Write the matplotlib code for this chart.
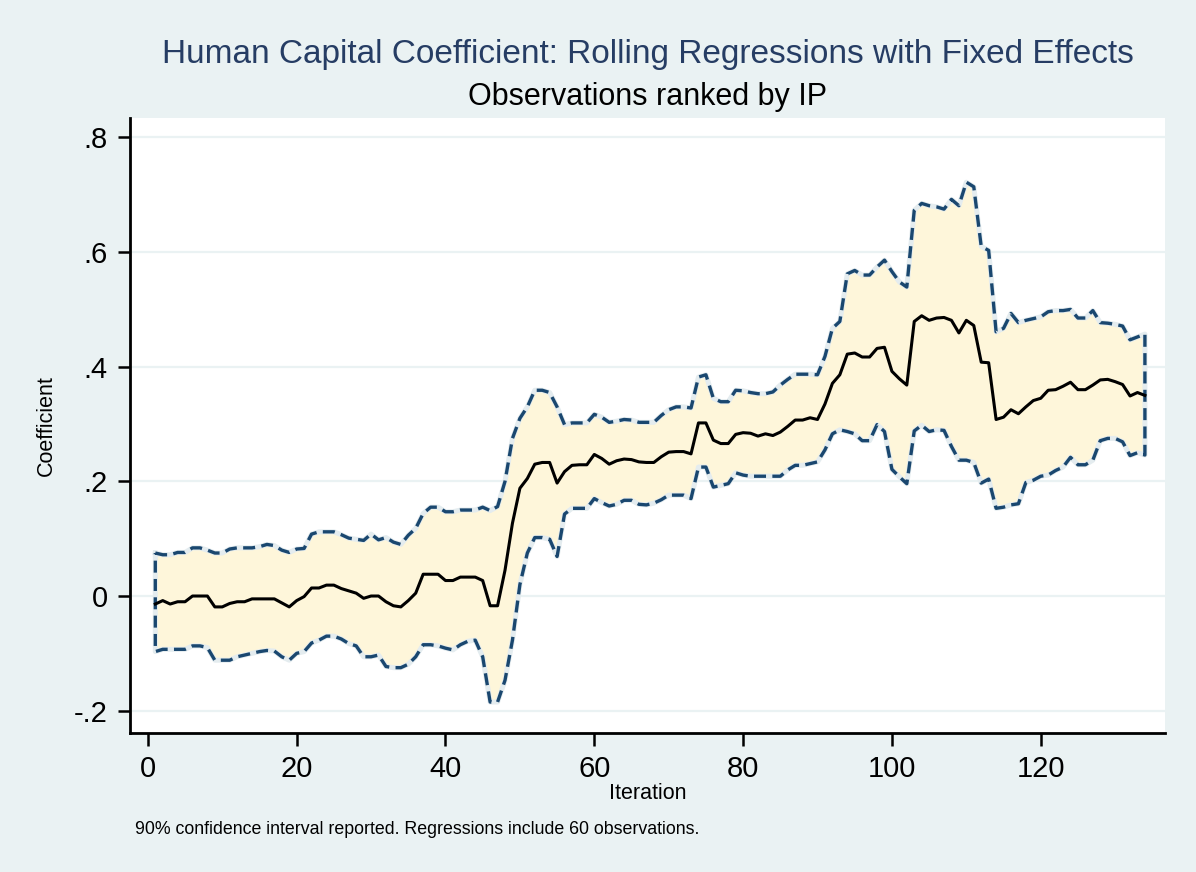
import numpy as np
import matplotlib
matplotlib.use("Agg")
import matplotlib.pyplot as plt

BG = "#EAF2F3"
NAVY = "#1A476F"
TITLE = "#263D64"
FILL = "#FEF6DA"

iteration = list(range(1, 135))

coef = [
    -0.014, -0.008, -0.014, -0.010, -0.010, 0.000, 0.000, 0.000, -0.019, -0.019,
    -0.013, -0.010, -0.010, -0.005, -0.005, -0.005, -0.005, -0.012, -0.019, -0.008,
    -0.001, 0.014, 0.014, 0.019, 0.019, 0.013, 0.009, 0.005, -0.004, 0.000,
    0.000, -0.010, -0.017, -0.019, -0.008, 0.005, 0.038, 0.038, 0.038, 0.027,
    0.027, 0.033, 0.033, 0.033, 0.027, -0.017, -0.017, 0.045, 0.127, 0.188,
    0.205, 0.230, 0.233, 0.233, 0.197, 0.217, 0.228, 0.229, 0.229, 0.247,
    0.240, 0.230, 0.236, 0.239, 0.238, 0.234, 0.233, 0.233, 0.243, 0.251,
    0.252, 0.252, 0.248, 0.302, 0.302, 0.272, 0.266, 0.266, 0.282, 0.285,
    0.284, 0.279, 0.283, 0.280, 0.286, 0.296, 0.307, 0.307, 0.311, 0.308,
    0.335, 0.371, 0.386, 0.422, 0.424, 0.417, 0.417, 0.432, 0.434, 0.392,
    0.379, 0.368, 0.479, 0.489, 0.481, 0.485, 0.486, 0.481, 0.459, 0.481,
    0.472, 0.408, 0.407, 0.308, 0.312, 0.325, 0.318, 0.330, 0.341, 0.345,
    0.359, 0.360, 0.366, 0.373, 0.360, 0.360, 0.368, 0.377, 0.378, 0.374,
    0.369, 0.349, 0.355, 0.350,
]

upper = [
    0.075, 0.072, 0.072, 0.076, 0.076, 0.084, 0.084, 0.080, 0.075, 0.075,
    0.082, 0.084, 0.084, 0.084, 0.086, 0.090, 0.088, 0.080, 0.076, 0.082,
    0.083, 0.108, 0.112, 0.112, 0.112, 0.107, 0.101, 0.099, 0.097, 0.108,
    0.098, 0.102, 0.094, 0.090, 0.106, 0.118, 0.144, 0.155, 0.155, 0.147,
    0.147, 0.150, 0.150, 0.150, 0.155, 0.149, 0.156, 0.200, 0.275, 0.310,
    0.330, 0.359, 0.359, 0.355, 0.330, 0.299, 0.302, 0.302, 0.302, 0.317,
    0.312, 0.303, 0.305, 0.308, 0.307, 0.303, 0.303, 0.303, 0.315, 0.325,
    0.330, 0.330, 0.328, 0.382, 0.386, 0.345, 0.339, 0.339, 0.359, 0.358,
    0.355, 0.353, 0.353, 0.356, 0.368, 0.378, 0.387, 0.387, 0.387, 0.386,
    0.418, 0.467, 0.479, 0.562, 0.568, 0.560, 0.560, 0.574, 0.586, 0.566,
    0.548, 0.539, 0.673, 0.685, 0.681, 0.679, 0.675, 0.692, 0.681, 0.722,
    0.714, 0.610, 0.603, 0.461, 0.467, 0.493, 0.477, 0.481, 0.484, 0.487,
    0.496, 0.498, 0.498, 0.500, 0.485, 0.485, 0.498, 0.477, 0.476, 0.474,
    0.471, 0.447, 0.452, 0.457,
]

lower = [
    -0.097, -0.093, -0.093, -0.093, -0.093, -0.087, -0.087, -0.090, -0.112, -0.112,
    -0.112, -0.106, -0.103, -0.100, -0.097, -0.095, -0.096, -0.106, -0.112, -0.100,
    -0.097, -0.082, -0.077, -0.070, -0.070, -0.075, -0.083, -0.087, -0.106, -0.106,
    -0.103, -0.123, -0.125, -0.125, -0.119, -0.106, -0.085, -0.085, -0.087, -0.091,
    -0.094, -0.085, -0.079, -0.077, -0.106, -0.185, -0.185, -0.147, -0.077, 0.020,
    0.075, 0.102, 0.102, 0.099, 0.069, 0.143, 0.153, 0.153, 0.153, 0.170,
    0.163, 0.157, 0.160, 0.167, 0.167, 0.160, 0.159, 0.162, 0.168, 0.176,
    0.176, 0.176, 0.170, 0.225, 0.225, 0.190, 0.193, 0.196, 0.215, 0.211,
    0.209, 0.209, 0.209, 0.209, 0.209, 0.220, 0.228, 0.228, 0.231, 0.234,
    0.255, 0.283, 0.290, 0.287, 0.283, 0.271, 0.271, 0.299, 0.287, 0.221,
    0.208, 0.196, 0.288, 0.298, 0.287, 0.290, 0.289, 0.261, 0.237, 0.237,
    0.233, 0.197, 0.204, 0.153, 0.155, 0.159, 0.161, 0.198, 0.202, 0.209,
    0.211, 0.219, 0.225, 0.242, 0.229, 0.229, 0.237, 0.271, 0.275, 0.275,
    0.269, 0.245, 0.250, 0.246,
]

yticks = [-0.2, 0, 0.2, 0.4, 0.6, 0.8]
ytick_labels = ["-.2", "0", ".2", ".4", ".6", ".8"]
xticks = [0, 20, 40, 60, 80, 100, 120]

plt.rcParams["font.family"] = ["Liberation Sans", "DejaVu Sans"]

fig = plt.figure(figsize=(11.96, 8.72), dpi=100, facecolor=BG)
ax = fig.add_axes([130 / 1196, 1 - 733 / 872, 1035 / 1196, 615 / 872])
ax.set_facecolor("white")

x = np.array(iteration)
up = np.array(upper)
lo = np.array(lower)

# confidence band, outlined all the way round like Stata's rarea
ax.fill_between(x, lo, up, color=FILL, lw=0, zorder=2)
px = np.concatenate([x, x[::-1], x[:1]])
py = np.concatenate([up, lo[::-1], up[:1]])
ax.plot(px, py, color="#E4ECEF", lw=3.6, zorder=3, solid_joinstyle="round")
ax.plot(px, py, color=NAVY, lw=2.4, dashes=(3.6, 1.9), zorder=4)

# point estimate
ax.plot(x, coef, color="black", lw=2.2, zorder=5)

ax.set_xlim(-2.4, 136.7)
ax.set_ylim(-0.239, 0.834)
ax.set_yticks(yticks)
ax.set_yticklabels(ytick_labels)
ax.set_xticks(xticks)
ax.yaxis.grid(True, color=BG, lw=1.6, zorder=1)
ax.set_axisbelow(True)

for s in ["top", "right"]:
    ax.spines[s].set_visible(False)
for s in ["left", "bottom"]:
    ax.spines[s].set_linewidth(2.0)
ax.tick_params(axis="both", length=9, width=1.8, labelsize=21, pad=7)

ax.set_xlabel("Iteration", fontsize=15.5, labelpad=0)
ax.set_ylabel("Coefficient", fontsize=15.5, labelpad=12)

cx = (130 + 1165) / 2 / 1196
fig.text(cx, 1 - 55 / 872, "Human Capital Coefficient: Rolling Regressions with Fixed Effects",
         ha="center", va="center", fontsize=24, color=TITLE)
fig.text(cx, 1 - 97 / 872, "Observations ranked by IP",
         ha="center", va="center", fontsize=22, color="black")
fig.text(135 / 1196, 1 - 829 / 872,
         "90% confidence interval reported. Regressions include 60 observations.",
         ha="left", va="center", fontsize=12.8, color="black")

fig.savefig("out.png", dpi=100, facecolor=BG)
